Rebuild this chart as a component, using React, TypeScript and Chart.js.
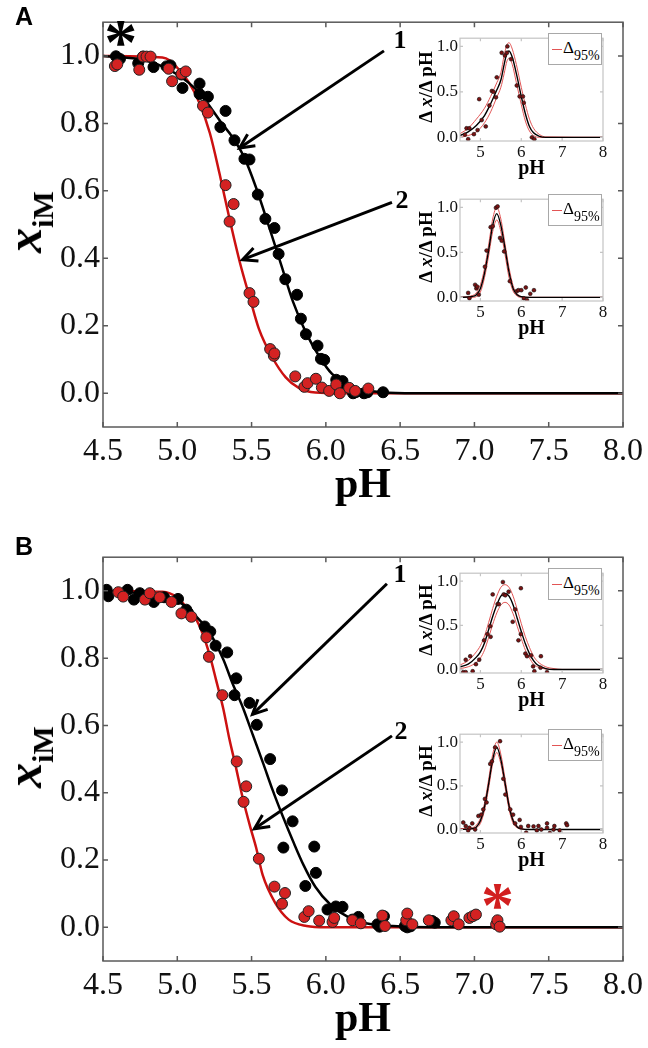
import React, { useEffect, useRef } from "react";
import { Chart, registerables } from "chart.js";

// ---------------- Axis ticks ----------------
const MAIN_X_TICKS = [4.5, 5.0, 5.5, 6.0, 6.5, 7.0, 7.5, 8.0];
const MAIN_Y_TICKS = [0.0, 0.2, 0.4, 0.6, 0.8, 1.0];
const INSET_X_TICKS = [5, 6, 7, 8];
const INSET_Y_TICKS = [0.0, 0.5, 1.0];

// ---------------- Panel A main ----------------
const A_BLACK_PH = [4.587, 4.614, 4.737, 4.77, 4.84, 4.927, 4.954, 5.028, 5.035, 5.15, 5.15, 5.206, 5.29, 5.325, 5.385, 5.452, 5.486, 5.542, 5.593, 5.654, 5.682, 5.727, 5.806, 5.832, 5.866, 5.944, 5.967, 5.989, 6.07, 6.09, 6.112, 6.183, 6.2, 6.257, 6.28, 6.385];
const A_BLACK_X = [0.999, 0.991, 0.978, 0.998, 0.967, 0.969, 0.972, 0.945, 0.905, 0.918, 0.887, 0.879, 0.789, 0.837, 0.75, 0.695, 0.693, 0.589, 0.517, 0.49, 0.413, 0.338, 0.292, 0.221, 0.175, 0.141, 0.102, 0.099, 0.04, 0.023, 0.036, 0.0, 0.003, 0.0, 0.003, 0.003];
const A_RED_PH = [4.58, 4.596, 4.744, 4.77, 4.793, 4.82, 4.942, 4.965, 5.028, 5.057, 5.173, 5.206, 5.325, 5.352, 5.379, 5.486, 5.513, 5.625, 5.65, 5.654, 5.794, 5.855, 5.877, 5.933, 5.973, 6.022, 6.07, 6.094, 6.157, 6.197, 6.286];
const A_RED_X = [0.97, 0.975, 0.959, 0.998, 0.998, 0.998, 0.962, 0.925, 0.947, 0.954, 0.852, 0.832, 0.617, 0.509, 0.561, 0.297, 0.271, 0.131, 0.111, 0.118, 0.05, 0.019, 0.03, 0.043, 0.017, 0.007, 0.026, 0.0, 0.016, 0.007, 0.014];
const A_FIT_BLACK_PH = [4.5, 4.8, 5.0, 5.15, 5.3, 5.37, 5.45, 5.53, 5.62, 5.7, 5.78, 5.87, 5.96, 6.04, 6.18, 6.38, 6.6, 8.0];
const A_FIT_BLACK_X = [1.0, 0.985, 0.945, 0.89, 0.8, 0.76, 0.7, 0.61, 0.49, 0.38, 0.27, 0.176, 0.106, 0.058, 0.018, 0.003, 0.0, 0.0];
const A_FIT_RED_PH = [4.5, 4.9, 4.95, 5.0, 5.08, 5.15, 5.22, 5.285, 5.35, 5.42, 5.49, 5.55, 5.64, 5.73, 5.82, 5.93, 6.1, 8.0];
const A_FIT_RED_X = [1.0, 0.995, 0.986, 0.965, 0.92, 0.86, 0.77, 0.65, 0.52, 0.39, 0.28, 0.19, 0.106, 0.047, 0.015, 0.002, 0.0, 0.0];

// ---------------- Panel B main ----------------
const B_BLACK_PH = [4.525, 4.536, 4.665, 4.708, 4.748, 4.842, 4.911, 5.005, 5.061, 5.072, 5.184, 5.222, 5.258, 5.336, 5.385, 5.397, 5.486, 5.535, 5.625, 5.705, 5.714, 5.776, 5.862, 5.922, 5.933, 6.011, 6.067, 6.112, 6.179, 6.219, 6.347, 6.362, 6.391, 6.532, 6.548, 6.57, 6.715, 6.733];
const B_BLACK_X = [1.003, 0.984, 1.003, 0.974, 0.993, 0.967, 0.981, 0.976, 0.944, 0.935, 0.894, 0.879, 0.837, 0.817, 0.69, 0.74, 0.667, 0.602, 0.5, 0.407, 0.237, 0.315, 0.123, 0.24, 0.162, 0.053, 0.062, 0.061, 0.023, 0.031, 0.009, 0.002, 0.033, 0.004, 0.0, 0.003, 0.019, 0.014];
const B_RED_PH = [4.603, 4.636, 4.782, 4.815, 4.882, 4.961, 5.028, 5.095, 5.196, 5.213, 5.303, 5.4, 5.446, 5.464, 5.549, 5.654, 5.705, 5.725, 5.855, 5.884, 5.955, 6.045, 6.056, 6.179, 6.235, 6.38, 6.398, 6.541, 6.548, 6.582, 6.693, 6.845, 6.861, 6.894, 6.966, 6.988, 7.01, 7.146, 7.155, 7.17];
const B_RED_X = [0.996, 0.983, 0.974, 0.993, 0.981, 0.967, 0.933, 0.923, 0.862, 0.804, 0.69, 0.493, 0.373, 0.419, 0.204, 0.121, 0.07, 0.102, 0.031, 0.048, 0.02, 0.016, 0.028, 0.021, 0.012, 0.035, 0.004, 0.021, 0.041, 0.009, 0.021, 0.021, 0.033, 0.009, 0.028, 0.033, 0.038, 0.009, 0.021, 0.002];
const B_FIT_BLACK_PH = [4.5, 4.8, 5.0, 5.13, 5.22, 5.31, 5.37, 5.44, 5.51, 5.58, 5.64, 5.71, 5.78, 5.85, 5.93, 6.03, 6.16, 6.27, 6.45, 6.7, 8.0];
const B_FIT_BLACK_X = [1.0, 0.99, 0.97, 0.923, 0.874, 0.796, 0.727, 0.655, 0.57, 0.485, 0.41, 0.33, 0.255, 0.185, 0.12, 0.068, 0.028, 0.012, 0.004, 0.0, 0.0];
const B_FIT_RED_PH = [4.5, 4.9, 5.0, 5.06, 5.13, 5.17, 5.22, 5.26, 5.31, 5.35, 5.39, 5.44, 5.49, 5.53, 5.575, 5.66, 5.75, 5.87, 6.0, 8.0];
const B_FIT_RED_X = [1.0, 0.997, 0.98, 0.952, 0.913, 0.874, 0.806, 0.737, 0.649, 0.561, 0.485, 0.385, 0.3, 0.238, 0.155, 0.072, 0.023, 0.004, 0.0, 0.0];

// ---------------- Insets (Δx/ΔpH) ----------------
const A1_PH = [4.62, 4.66, 4.7, 4.73, 4.84, 4.93, 4.97, 5.03, 5.13, 5.22, 5.28, 5.32, 5.38, 5.4, 5.52, 5.6, 5.65, 5.66, 5.75, 5.89, 5.96, 6.04, 6.06, 6.26, 6.32];
const A1_DX = [0.03, 0.1, -0.02, 0.1, 0.035, 0.08, 0.42, 0.19, 0.12, 0.35, 0.51, 0.5, 0.44, 0.66, 0.93, 0.9, 0.93, 1.0, 0.86, 0.57, 0.45, 0.45, 0.38, 0.0, -0.02];
const A1_FIT_PH = [4.5, 4.7, 4.9, 5.1, 5.25, 5.4, 5.5, 5.58, 5.65, 5.7, 5.78, 5.88, 6.0, 6.1, 6.2, 6.3, 6.45, 6.6, 8.0];
const A1_FIT = [0.02, 0.06, 0.13, 0.24, 0.37, 0.52, 0.63, 0.8, 0.93, 0.95, 0.88, 0.7, 0.45, 0.26, 0.12, 0.05, 0.01, 0.0, 0.0];
const A1_HI = [0.04, 0.1, 0.2, 0.32, 0.45, 0.6, 0.71, 0.9, 1.02, 1.04, 0.97, 0.8, 0.55, 0.36, 0.2, 0.1, 0.03, 0.005, 0.0];
const A1_LO = [0.0, 0.02, 0.06, 0.16, 0.28, 0.44, 0.55, 0.7, 0.84, 0.87, 0.8, 0.6, 0.36, 0.18, 0.07, 0.02, 0.0, 0.0, 0.0];

const A2_PH = [4.7, 4.73, 4.87, 4.9, 4.92, 4.96, 5.11, 5.15, 5.25, 5.3, 5.38, 5.42, 5.48, 5.52, 5.58, 5.72, 5.89, 5.93, 6.0, 6.06, 6.11, 6.14, 6.22, 6.31];
const A2_DX = [0.05, -0.01, 0.14, 0.1, 0.12, 0.03, 0.34, 0.52, 0.78, 0.79, 0.995, 1.01, 0.66, 0.63, 0.51, 0.18, 0.07, 0.08, 0.08, -0.01, 0.11, -0.03, 0.04, 0.08];
const A2_FIT_PH = [4.5, 4.8, 4.9, 5.0, 5.1, 5.2, 5.3, 5.4, 5.5, 5.6, 5.7, 5.8, 5.9, 6.0, 6.2, 8.0];
const A2_FIT = [0.0, 0.01, 0.03, 0.1, 0.27, 0.52, 0.8, 0.93, 0.8, 0.55, 0.28, 0.1, 0.03, 0.008, 0.0, 0.0];
const A2_HI = [0.0, 0.02, 0.05, 0.14, 0.32, 0.58, 0.87, 1.0, 0.87, 0.6, 0.33, 0.13, 0.04, 0.01, 0.0, 0.0];
const A2_LO = [0.0, 0.0, 0.01, 0.06, 0.22, 0.46, 0.73, 0.86, 0.73, 0.48, 0.22, 0.07, 0.015, 0.0, 0.0, 0.0];

const B1_PH = [4.58, 4.64, 4.64, 4.75, 4.81, 4.89, 4.97, 5.09, 5.17, 5.24, 5.25, 5.3, 5.42, 5.45, 5.55, 5.57, 5.61, 5.69, 5.79, 5.85, 5.93, 5.99, 5.99, 6.1, 6.14, 6.24, 6.29, 6.32, 6.47, 6.48, 6.63];
const B1_DX = [-0.03, 0.11, -0.03, 0.15, -0.02, 0.06, 0.11, 0.33, 0.4, 0.49, 0.37, 0.85, 0.74, 0.74, 0.99, 0.85, 0.84, 0.88, 0.54, 0.68, 0.33, 0.92, 0.4, 0.18, 0.15, 0.16, 0.035, -0.02, 0.02, 0.15, -0.03];
const B1_FIT_PH = [4.5, 4.7, 4.9, 5.0, 5.1, 5.2, 5.3, 5.4, 5.5, 5.6, 5.7, 5.8, 5.9, 6.0, 6.1, 6.2, 6.3, 6.4, 6.6, 6.8, 7.0, 8.0];
const B1_FIT = [0.03, 0.06, 0.14, 0.2, 0.3, 0.45, 0.6, 0.73, 0.83, 0.86, 0.83, 0.73, 0.58, 0.43, 0.29, 0.18, 0.1, 0.05, 0.01, 0.0, 0.0, 0.0];
const B1_HI = [0.05, 0.1, 0.2, 0.27, 0.38, 0.53, 0.69, 0.83, 0.93, 0.96, 0.93, 0.83, 0.68, 0.52, 0.37, 0.25, 0.15, 0.09, 0.03, 0.01, 0.0, 0.0];
const B1_LO = [0.01, 0.03, 0.08, 0.13, 0.22, 0.36, 0.51, 0.64, 0.73, 0.76, 0.73, 0.63, 0.49, 0.35, 0.22, 0.13, 0.06, 0.03, 0.005, 0.0, 0.0, 0.0];

const B2_PH = [4.58, 4.64, 4.7, 4.73, 4.8, 4.87, 4.95, 5.02, 5.07, 5.11, 5.15, 5.24, 5.28, 5.36, 5.48, 5.56, 5.61, 5.73, 5.8, 5.85, 5.96, 5.99, 6.12, 6.17, 6.3, 6.38, 6.42, 6.49, 6.63, 6.63, 6.7, 6.79, 6.81, 6.94, 7.1, 7.12];
const B2_DX = [0.08, 0.04, -0.01, 0.02, 0.07, 0.0, 0.155, 0.17, 0.23, 0.35, 0.31, 0.75, 0.78, 0.94, 1.01, 0.58, 0.4, 0.23, 0.17, 0.07, 0.11, 0.03, -0.035, 0.04, 0.035, -0.01, 0.04, 0.0, 0.07, 0.02, -0.04, 0.0, 0.04, -0.01, 0.07, 0.05];
const B2_FIT_PH = [4.5, 4.8, 4.9, 5.0, 5.1, 5.2, 5.3, 5.4, 5.5, 5.6, 5.7, 5.8, 5.9, 6.0, 6.2, 8.0];
const B2_FIT = [0.0, 0.01, 0.03, 0.1, 0.26, 0.52, 0.8, 0.94, 0.8, 0.54, 0.27, 0.1, 0.03, 0.008, 0.0, 0.0];
const B2_HI = [0.01, 0.02, 0.05, 0.13, 0.3, 0.57, 0.86, 1.0, 0.86, 0.59, 0.31, 0.12, 0.04, 0.01, 0.0, 0.0];
const B2_LO = [0.0, 0.005, 0.02, 0.07, 0.22, 0.47, 0.75, 0.88, 0.75, 0.49, 0.23, 0.07, 0.02, 0.004, 0.0, 0.0];

// ---------------- Annotations (data units of the main charts) ----------------
const A_ARROWS = [
  { from: [6.391, 1.015], to: [5.419, 0.727] },
  { from: [6.445, 0.566], to: [5.439, 0.396] },
];
const B_ARROWS = [
  { from: [6.411, 1.021], to: [5.506, 0.633] },
  { from: [6.445, 0.569], to: [5.519, 0.293] },
];
const A_TEXTS = [
  { at: [6.499, 1.044], text: "1", font: "bold 26px 'Liberation Serif', serif", color: "#000" },
  { at: [6.512, 0.569], text: "2", font: "bold 26px 'Liberation Serif', serif", color: "#000" },
  { at: [4.62, 1.026], text: "*", font: "bold 66px 'Liberation Serif', serif", color: "#000" },
];
const B_TEXTS = [
  { at: [6.499, 1.047], text: "1", font: "bold 26px 'Liberation Serif', serif", color: "#000" },
  { at: [6.505, 0.581], text: "2", font: "bold 26px 'Liberation Serif', serif", color: "#000" },
  { at: [7.155, 0.052], text: "*", font: "bold 66px 'Liberation Serif', serif", color: "#d21f1f" },
];

const SERIF = "'Liberation Serif', 'Times New Roman', serif";
const RED_PT = "#d42222";
const RED_LINE = "#cc1111";
const INSET_RED = "#e25555";

const pts = (xs: number[], ys: number[]) => xs.map((x, i) => ({ x, y: ys[i] }));

// frame: full box with inward ticks on all four sides
const framePlugin = {
  id: "frame",
  beforeDatasetsDraw(chart: any, _a: any, opts: any) {
    if (!opts || !opts.color) return;
    const { ctx, chartArea: a } = chart;
    if (opts.fill) {
      ctx.save();
      ctx.fillStyle = opts.fill;
      ctx.fillRect(a.left, a.top, a.right - a.left, a.bottom - a.top);
      ctx.restore();
    }
  },
  afterDatasetsDraw(chart: any, _a: any, opts: any) {
    if (!opts || !opts.color) return;
    const { ctx, chartArea: a, scales } = chart;
    const L = opts.tickLen;
    ctx.save();
    ctx.strokeStyle = opts.color;
    ctx.lineWidth = opts.width;
    ctx.strokeRect(a.left, a.top, a.right - a.left, a.bottom - a.top);
    ctx.beginPath();
    for (const v of opts.xTicks) {
      const p = scales.x.getPixelForValue(v);
      ctx.moveTo(p, a.bottom); ctx.lineTo(p, a.bottom - L);
      ctx.moveTo(p, a.top); ctx.lineTo(p, a.top + L);
    }
    for (const v of opts.yTicks) {
      const p = scales.y.getPixelForValue(v);
      ctx.moveTo(a.left, p); ctx.lineTo(a.left + L, p);
      ctx.moveTo(a.right, p); ctx.lineTo(a.right - L, p);
    }
    ctx.stroke();
    ctx.restore();
  },
};

const annotPlugin = {
  id: "annot",
  afterDatasetsDraw(chart: any, _a: any, opts: any) {
    if (!opts || !opts.arrows) return;
    const { ctx, scales } = chart;
    const X = (v: number) => scales.x.getPixelForValue(v);
    const Y = (v: number) => scales.y.getPixelForValue(v);
    ctx.save();
    ctx.strokeStyle = "#000";
    ctx.lineWidth = 3;
    ctx.lineCap = "butt";
    ctx.lineJoin = "miter";
    for (const ar of opts.arrows) {
      const x1 = X(ar.from[0]), y1 = Y(ar.from[1]);
      const x2 = X(ar.to[0]), y2 = Y(ar.to[1]);
      const ang = Math.atan2(y2 - y1, x2 - x1);
      ctx.beginPath();
      ctx.moveTo(x1, y1);
      ctx.lineTo(x2, y2);
      ctx.stroke();
      const hl = 16, spread = 0.45;
      ctx.beginPath();
      ctx.moveTo(x2 - hl * Math.cos(ang - spread), y2 - hl * Math.sin(ang - spread));
      ctx.lineTo(x2, y2);
      ctx.lineTo(x2 - hl * Math.cos(ang + spread), y2 - hl * Math.sin(ang + spread));
      ctx.stroke();
    }
    for (const t of opts.texts) {
      ctx.font = t.font;
      ctx.fillStyle = t.color;
      ctx.textAlign = "center";
      ctx.textBaseline = "middle";
      ctx.fillText(t.text, X(t.at[0]), Y(t.at[1]));
    }
    ctx.restore();
  },
};

Chart.register(...registerables, framePlugin as any, annotPlugin as any);

function mainConfig(p: any) {
  return {
    type: "scatter",
    data: {
      datasets: [
        { data: p.red, pointRadius: 5.5, pointBackgroundColor: RED_PT, pointBorderColor: "#222", pointBorderWidth: 1, showLine: false },
        { data: p.black, pointRadius: 5.5, pointBackgroundColor: "#000", pointBorderColor: "#000", pointBorderWidth: 1, showLine: false },
        { data: p.blackFit, showLine: true, pointRadius: 0, borderColor: "#000", borderWidth: 2.5, cubicInterpolationMode: "monotone" },
        { data: p.redFit, showLine: true, pointRadius: 0, borderColor: RED_LINE, borderWidth: 2.5, cubicInterpolationMode: "monotone" },
      ],
    },
    options: {
      animation: false,
      responsive: false,
      maintainAspectRatio: false,
      events: [],
      layout: { padding: { top: 18, right: 23, left: 0, bottom: 0 } },
      plugins: {
        legend: { display: false },
        tooltip: { enabled: false },
        frame: { color: "#5a5a5a", width: 1.5, tickLen: 5, xTicks: MAIN_X_TICKS, yTicks: MAIN_Y_TICKS },
        annot: { arrows: p.arrows, texts: p.texts },
      },
      scales: {
        x: {
          type: "linear", min: 4.5, max: 8.0,
          afterBuildTicks: (s: any) => { s.ticks = MAIN_X_TICKS.map((v) => ({ value: v })); },
          afterFit: (s: any) => { s.height = p.axisH; },
          grid: { display: false, drawTicks: false },
          border: { display: false },
          ticks: { autoSkip: false, maxRotation: 0, color: "#111", padding: 5, font: { family: SERIF, size: 32 }, callback: (v: any) => Number(v).toFixed(1) },
          title: { display: true, text: "pH", color: "#000", font: { family: SERIF, size: 42, weight: "bold" }, padding: { top: 0, bottom: p.titlePad } },
        },
        y: {
          type: "linear", min: -0.1, max: 1.1,
          afterBuildTicks: (s: any) => { s.ticks = MAIN_Y_TICKS.map((v) => ({ value: v })); },
          afterFit: (s: any) => { s.width = 103; },
          grid: { display: false, drawTicks: false },
          border: { display: false },
          ticks: { autoSkip: false, color: "#111", padding: 3, font: { family: SERIF, size: 32 }, callback: (v: any) => Number(v).toFixed(1) },
        },
      },
    },
  };
}

function insetConfig(p: any) {
  const line = (d: any, color: string, w: number) => ({ data: d, showLine: true, pointRadius: 0, borderColor: color, borderWidth: w, cubicInterpolationMode: "monotone" });
  return {
    type: "scatter",
    data: {
      datasets: [
        { data: p.pts, pointRadius: 1.9, pointBackgroundColor: "#7a1212", pointBorderColor: "#111", pointBorderWidth: 0.6, showLine: false },
        line(p.fit, "#000", 1.4),
        line(p.hi, INSET_RED, 1),
        line(p.lo, INSET_RED, 1),
      ],
    },
    options: {
      animation: false,
      responsive: false,
      maintainAspectRatio: false,
      events: [],
      layout: { padding: { top: 6, right: 17, left: 0, bottom: 0 } },
      plugins: {
        legend: { display: false },
        tooltip: { enabled: false },
        frame: { color: "#c4c4c4", width: 1.2, tickLen: 3, xTicks: INSET_X_TICKS, yTicks: INSET_Y_TICKS, fill: "#ffffff" },
      },
      scales: {
        x: {
          type: "linear", min: 4.5, max: 8.0,
          afterBuildTicks: (s: any) => { s.ticks = INSET_X_TICKS.map((v) => ({ value: v })); },
          afterFit: (s: any) => { s.height = 42; },
          grid: { display: false, drawTicks: false },
          border: { display: false },
          ticks: { autoSkip: false, maxRotation: 0, color: "#111", padding: 1, font: { family: SERIF, size: 17 }, callback: (v: any) => String(v) },
          title: { display: true, text: "pH", color: "#000", font: { family: SERIF, size: 20, weight: "bold" }, padding: { top: 0, bottom: 2 } },
        },
        y: {
          type: "linear", min: -0.04, max: 1.09,
          afterBuildTicks: (s: any) => { s.ticks = INSET_Y_TICKS.map((v) => ({ value: v })); },
          afterFit: (s: any) => { s.width = 64; },
          grid: { display: false, drawTicks: false },
          border: { display: false },
          ticks: { autoSkip: false, color: "#111", padding: 2, font: { family: SERIF, size: 17 }, callback: (v: any) => Number(v).toFixed(1) },
        },
      },
    },
  };
}

function ChartCanvas({ left, top, width, height, make }: any) {
  const ref = useRef<HTMLCanvasElement>(null);
  useEffect(() => {
    const chart = new Chart(ref.current as any, make() as any);
    return () => chart.destroy();
  }, []);
  return <canvas ref={ref} width={width} height={height} style={{ position: "absolute", left, top, width, height }} />;
}

function Rotated({ cx, cy, children }: any) {
  return (
    <div style={{ position: "absolute", left: cx, top: cy, transform: "translate(-50%, -50%) rotate(-90deg)", whiteSpace: "nowrap", lineHeight: 1, fontFamily: SERIF, fontWeight: "bold", color: "#000" }}>
      {children}
    </div>
  );
}

function MainYTitle({ cx, cy }: any) {
  return (
    <Rotated cx={cx} cy={cy}>
      <span style={{ fontStyle: "italic", fontSize: 50 }}>x</span>
      <span style={{ fontSize: 30, position: "relative", top: 12 }}>iM</span>
    </Rotated>
  );
}

function InsetYTitle({ cx, cy }: any) {
  return (
    <Rotated cx={cx} cy={cy}>
      <span style={{ fontSize: 19 }}>Δ <i>x</i>/Δ pH</span>
    </Rotated>
  );
}

function Legend({ right, top }: any) {
  return (
    <div style={{ position: "absolute", left: right - 54, top, width: 54, height: 32, boxSizing: "border-box", border: "1px solid #a8a8a8", background: "#fff", fontFamily: SERIF, color: "#000" }}>
      <div style={{ position: "absolute", left: 3, top: 15, width: 10, height: 1.2, background: INSET_RED }} />
      <span style={{ position: "absolute", left: 14, top: 5, fontSize: 17, lineHeight: 1 }}>Δ</span>
      <span style={{ position: "absolute", left: 25, top: 15, fontSize: 14, lineHeight: 1 }}>95%</span>
    </div>
  );
}

const INSETS = [
  { top: 32, bottom: 141, pts: pts(A1_PH, A1_DX), fit: pts(A1_FIT_PH, A1_FIT), hi: pts(A1_FIT_PH, A1_HI), lo: pts(A1_FIT_PH, A1_LO) },
  { top: 193, bottom: 301, pts: pts(A2_PH, A2_DX), fit: pts(A2_FIT_PH, A2_FIT), hi: pts(A2_FIT_PH, A2_HI), lo: pts(A2_FIT_PH, A2_LO) },
  { top: 567, bottom: 673, pts: pts(B1_PH, B1_DX), fit: pts(B1_FIT_PH, B1_FIT), hi: pts(B1_FIT_PH, B1_HI), lo: pts(B1_FIT_PH, B1_LO) },
  { top: 728, bottom: 833, pts: pts(B2_PH, B2_DX), fit: pts(B2_FIT_PH, B2_FIT), hi: pts(B2_FIT_PH, B2_HI), lo: pts(B2_FIT_PH, B2_LO) },
];

export default function App() {
  return (
    <div style={{ position: "absolute", left: 0, top: 0, width: 648, height: 1048, background: "#fff", overflow: "hidden" }}>
      <ChartCanvas left={0} top={0} width={648} height={520}
        make={() => mainConfig({ red: pts(A_RED_PH, A_RED_X), black: pts(A_BLACK_PH, A_BLACK_X), blackFit: pts(A_FIT_BLACK_PH, A_FIT_BLACK_X), redFit: pts(A_FIT_RED_PH, A_FIT_RED_X), arrows: A_ARROWS, texts: A_TEXTS, axisH: 93, titlePad: 9 })} />
      <ChartCanvas left={0} top={535} width={648} height={513}
        make={() => mainConfig({ red: pts(B_RED_PH, B_RED_X), black: pts(B_BLACK_PH, B_BLACK_X), blackFit: pts(B_FIT_BLACK_PH, B_FIT_BLACK_X), redFit: pts(B_FIT_RED_PH, B_FIT_RED_X), arrows: B_ARROWS, texts: B_TEXTS, axisH: 87, titlePad: 3 })} />
      {INSETS.map((s, i) => (
        <ChartCanvas key={i} left={396} top={s.top - 6} width={224} height={s.bottom - s.top + 48} make={() => insetConfig(s)} />
      ))}
      {INSETS.map((s, i) => (
        <React.Fragment key={"o" + i}>
          <InsetYTitle cx={425} cy={(s.top + s.bottom) / 2} />
          <Legend right={602} top={s.top + 1} />
        </React.Fragment>
      ))}
      <MainYTitle cx={24} cy={222} />
      <MainYTitle cx={24} cy={757} />
      <div style={{ position: "absolute", left: 15, top: 4, fontFamily: "'Liberation Sans', Arial, sans-serif", fontWeight: "bold", fontSize: 25, lineHeight: 1 }}>A</div>
      <div style={{ position: "absolute", left: 15, top: 534, fontFamily: "'Liberation Sans', Arial, sans-serif", fontWeight: "bold", fontSize: 25, lineHeight: 1 }}>B</div>
    </div>
  );
}
